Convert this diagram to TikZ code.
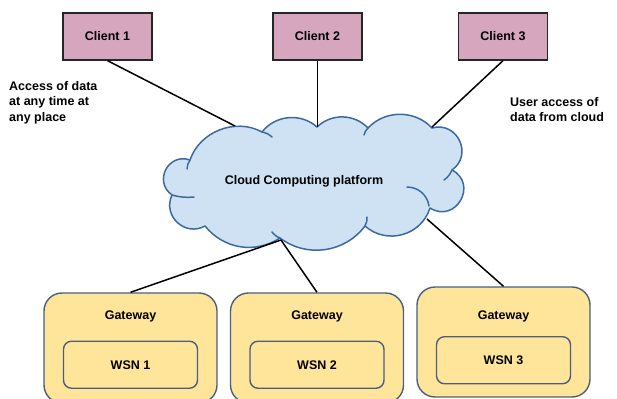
\documentclass[tikz,border=0pt]{standalone}
\usepackage{fontspec}
\setmainfont{Liberation Sans}
\usepackage{xcolor}
\usepackage{tikz}
\usetikzlibrary{shapes.geometric, arrows, positioning, calc}
\definecolor{clientpink}{HTML}{D5A6BD}
\definecolor{cloudblue}{HTML}{CFE2F3}
\definecolor{cloudline}{HTML}{3D6A9E}
\definecolor{gwyellow}{HTML}{FFE599}
\definecolor{gwline}{HTML}{4A5F7E}
\tikzstyle{client} = [rectangle, minimum width=89pt, minimum height=47pt, text centered, draw=black!85, line width=1.3pt, fill=clientpink, font=\bfseries\fontsize{12.5}{15}\selectfont]
\tikzstyle{puffs} = [draw=cloudline, line width=1.5pt, fill=cloudblue, line join=round]
\tikzstyle{crease} = [draw=cloudline, line width=1.5pt, line cap=round]
\tikzstyle{platform} = [inner sep=0pt, font=\bfseries\fontsize{12.5}{15}\selectfont]
\tikzstyle{gateway} = [rectangle, rounded corners=18pt, minimum width=173pt, minimum height=110pt, draw=gwline, line width=1.4pt, fill=gwyellow]
\tikzstyle{wsn} = [rectangle, rounded corners=8pt, minimum width=134pt, minimum height=47pt, text centered, draw=gwline, line width=1.4pt, fill=gwyellow, font=\bfseries\fontsize{12.5}{15}\selectfont]
\tikzstyle{gwtext} = [inner sep=0pt, font=\bfseries\fontsize{12.5}{15}\selectfont]
\tikzstyle{sidetext} = [align=left, inner sep=0pt, anchor=north west, font=\bfseries\fontsize{12.5}{15.5}\selectfont]
\tikzstyle{link} = [line width=1.5pt, black]

\begin{document}
\begin{tikzpicture}[x=1pt, y=-1pt, node distance=210pt]
        \useasboundingbox (0,0) rectangle (617,398);
        \clip (0,0) rectangle (617,398);

        % clients on top
        \node (client2) [client] at (317.5,36.5) {Client 2};
        \node (client1) [client, left of=client2] {Client 1};
        \node (client3) [client, right of=client2, xshift=-24.5pt] {Client 3};

        % cloud outline, puff by puff
        \path [puffs] (190,160) to[bend left=50] (262,132) to[bend left=47] (317,127)
            to[bend left=45] (368,128) to[bend left=47] (432,128)
            to[bend left=80, looseness=1.45] (452,170) to[bend left=92, looseness=1.76] (430,208)
            to[bend left=57, looseness=1.1] (365,226) to[bend left=45] (280,238)
            to[bend left=42] (205,226) to[bend left=72, looseness=1.3] (172,195)
            to[bend left=82, looseness=1.5] (190,160) -- cycle;
        \draw [crease] (262,132) to[bend left=15] (272,137);
        \draw [crease] (190,160) to[bend right=15] (187,169);
        \draw [crease] (172,195) to[bend right=10] (194,197);
        \draw [crease] (280,238) to[bend left=15] (272,232);
        \draw [crease] (365,226) to[bend right=15] (367,217);
        \draw [crease] (407,187) to[bend left=40] (429,206);
        \draw [crease] (452,170) to[bend left=15] (444,180);
        \draw [crease] (368,128) to[bend right=15] (364,135);
        \node (cloud) [platform] at (304,181) {Cloud Computing platform};
        \coordinate (in1) at (235,126);
        \coordinate (in2) at (317.5,127);
        \coordinate (in3) at (432,127);
        \coordinate (out12) at (281,240);
        \coordinate (out3) at (427,219);

        % gateways with their sensor networks
        \node (gw2) [gateway] at (317,348) {};
        \node (gw1) [gateway, node distance=186.5pt, left of=gw2] {};
        \node (gw3) [gateway, node distance=186.5pt, right of=gw2, yshift=6pt] {};
        \node (gwt1) [gwtext, below=18.5pt of gw1.north] {Gateway};
        \node (gwt2) [gwtext, below=18.5pt of gw2.north] {Gateway};
        \node (gwt3) [gwtext, below=24pt of gw3.north] {Gateway};
        \node (wsn1) [wsn, below=18pt of gwt1] {WSN 1};
        \node (wsn2) [wsn, below=18pt of gwt2] {WSN 2};
        \node (wsn3) [wsn, below=14pt of gwt3] {WSN 3};

        \node (access) [sidetext] at (9,81) {Access of data\\at any time at\\any place};
        \node (user) [sidetext] at (510,97) {User access of\\data from cloud};

        \draw [link] (client1.south) -- (in1);
        \draw [link] (client2.south) -- (in2);
        \draw [link] (client3.south) -- (in3);
        \draw [link] (out12) -- (gw1.north);
        \draw [link] (out12) -- (gw2.north);
        \draw [link] (out3) -- (gw3.north);
    \end{tikzpicture}
\end{document}
